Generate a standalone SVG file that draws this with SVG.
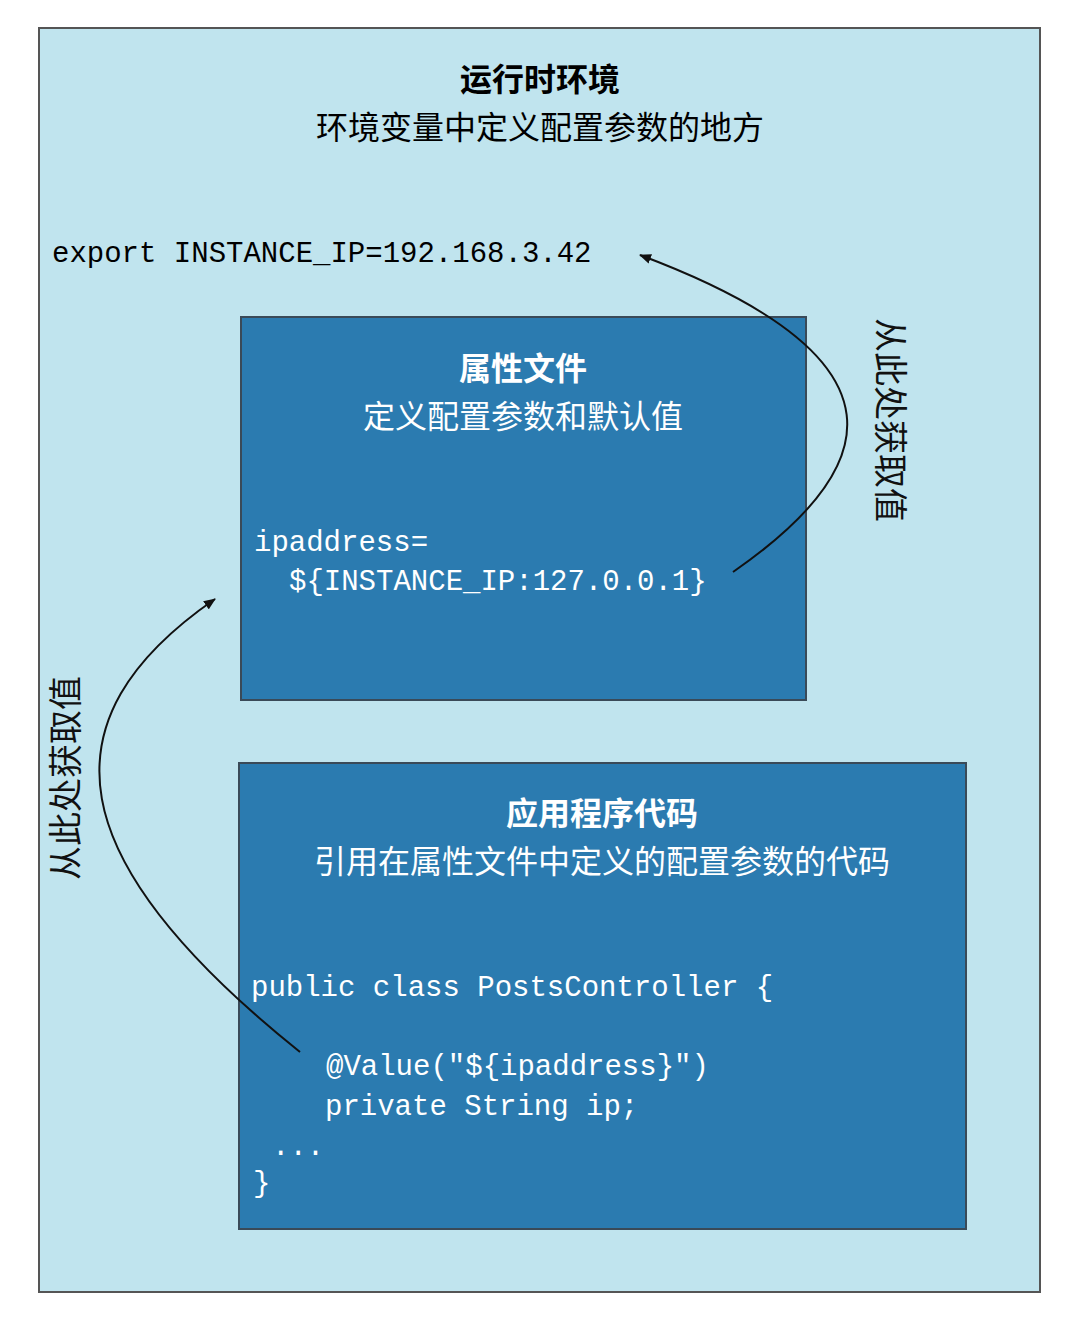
<svg xmlns="http://www.w3.org/2000/svg" width="1080" height="1322" viewBox="0 0 1080 1322">
<style>
.cn{font-family:"Liberation Sans","Noto Sans CJK SC",sans-serif;font-size:32px;text-anchor:middle}
.b{font-weight:bold}
.code{font-family:"Liberation Mono","DejaVu Sans Mono",monospace;font-size:29px}
.w{fill:#fff}
.box{fill:#2b7bb0;stroke:#3a4a58;stroke-width:2}
.lab{font-family:"Liberation Sans","Noto Sans CJK SC",sans-serif;font-size:34px;fill:#111}
</style>
<defs><marker id="ah" markerWidth="12" markerHeight="10" refX="11" refY="5" orient="auto" markerUnits="userSpaceOnUse"><path d="M0,0 L12,5 L0,10 Z" fill="#111"/></marker></defs>
<g id="env">
<rect x="39" y="28" width="1001" height="1264" fill="#c0e4ee" stroke="#555" stroke-width="2"/>
<text class="cn b" x="540" y="91">运行时环境</text>
<text class="cn" x="540" y="139">环境变量中定义配置参数的地方</text>
<text class="code" x="52" y="262">export INSTANCE_IP=192.168.3.42</text>
</g>
<g id="props">
<rect class="box" x="241" y="317" width="565" height="383"/>
<text class="cn b w" x="523" y="380">属性文件</text>
<text class="cn w" x="523" y="428">定义配置参数和默认值</text>
<text class="code w" x="254" y="551">ipaddress=</text>
<text class="code w" x="289" y="590">${INSTANCE_IP:127.0.0.1}</text>
</g>
<g id="app">
<rect class="box" x="239" y="763" width="727" height="466"/>
<text class="cn b w" x="602" y="825">应用程序代码</text>
<text class="cn w" x="602" y="873">引用在属性文件中定义的配置参数的代码</text>
<text class="code w" x="251" y="996">public class PostsController {</text>
<text class="code w" x="326" y="1075">@Value("${ipaddress}")</text>
<text class="code w" x="325" y="1115">private String ip;</text>
<text class="code w" x="272" y="1155">...</text>
<text class="code w" x="253" y="1192">}</text>
</g>
<g id="connectors" fill="none" stroke="#111" stroke-width="2">
<path d="M733,572 C880,470 920,360 640,255" marker-end="url(#ah)"/>
<path d="M300,1052 C60,860 40,720 215,599" marker-end="url(#ah)"/>
</g>
<g id="labels">
<text class="lab" transform="translate(878,318) rotate(90)">从此处获取值</text>
<text class="lab" transform="translate(78,880) rotate(-90)">从此处获取值</text>
</g>
</svg>
